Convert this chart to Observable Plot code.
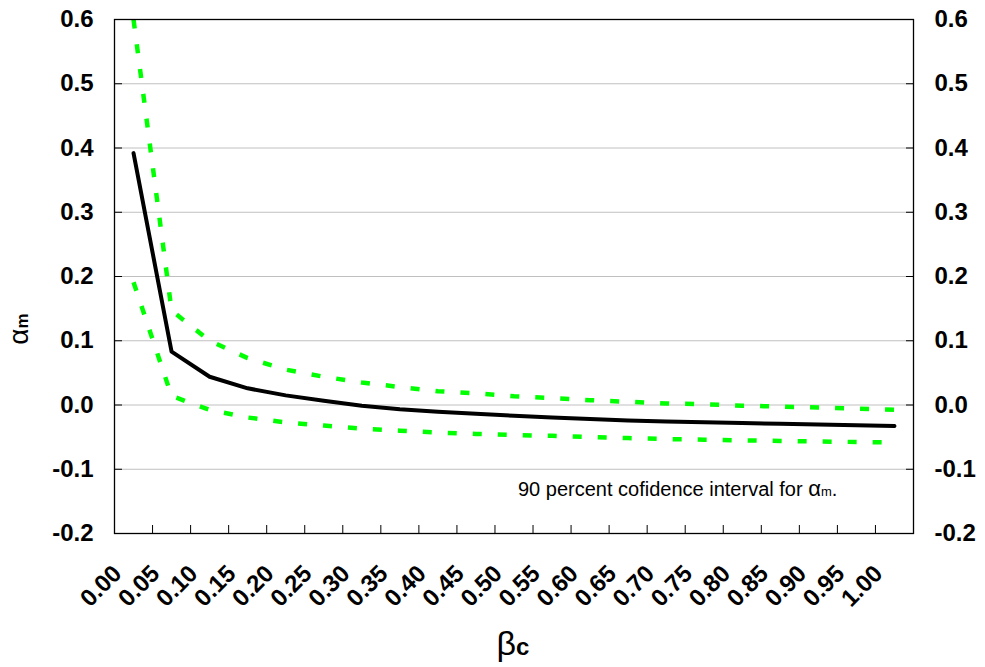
<!DOCTYPE html>
<html><head><meta charset="utf-8">
<script src="https://cdn.jsdelivr.net/npm/d3@7"></script>
<script src="https://cdn.jsdelivr.net/npm/@observablehq/plot@0.6"></script>
<style>html,body{margin:0;padding:0;background:#fff;} svg{display:block;}</style>
</head><body><div id="chart"></div>
<script>
const betaValues = [0.00,0.05,0.10,0.15,0.20,0.25,0.30,0.35,0.40,0.45,0.50,0.55,0.60,0.65,0.70,0.75,0.80,0.85,0.90,0.95,1.00];
const alphaM  = [0.392,0.083,0.044,0.026,0.015,0.0065,-0.001,-0.0065,-0.0105,-0.0138,-0.0167,-0.0193,-0.0218,-0.024,-0.0255,-0.027,-0.028,-0.0293,-0.0305,-0.0316,-0.0327];
const upper90 = [0.6,0.147,0.1,0.073,0.055,0.044,0.035,0.028,0.0215,0.018,0.0137,0.0106,0.0075,0.005,0.0025,0.001,-0.001,-0.0026,-0.004,-0.0058,-0.0075];
const lower90 = [0.191,0.014,-0.0075,-0.0195,-0.027,-0.032,-0.037,-0.040,-0.043,-0.045,-0.0467,-0.048,-0.050,-0.0515,-0.053,-0.054,-0.055,-0.056,-0.0567,-0.0576,-0.0583];
const yTicks = [-0.2,-0.1,0.0,0.1,0.2,0.3,0.4,0.5,0.6];
const gridTicks = [-0.1,0.0,0.1,0.2,0.3,0.4,0.5];

const step = betaValues[1] - betaValues[0];
const bandEdges = betaValues.map(b => b - step / 2).concat([betaValues[betaValues.length - 1] + step / 2]);
const rows = betaValues.map((b, i) => ({beta: b, alpha: alphaM[i], upper: upper90[i], lower: lower90[i]}));

const font = "Arial, 'Liberation Sans', sans-serif";
const green = "#00ff00";
const dashStyle = {stroke: green, strokeWidth: 4.5, strokeDasharray: "9,16", strokeLinecap: "butt", strokeLinejoin: "miter", clip: true};

const plot = Plot.plot({
  width: 985, height: 667,
  marginLeft: 114, marginRight: 72, marginTop: 19, marginBottom: 134,
  style: {fontFamily: font, background: "#fff", color: "#000", overflow: "visible"},
  x: {domain: [bandEdges[0], bandEdges[bandEdges.length - 1]]},
  y: {domain: [yTicks[0], yTicks[yTicks.length - 1]]},
  marks: [
    Plot.gridY(gridTicks, {stroke: "#c0c0c0", strokeOpacity: 1, strokeWidth: 1}),
    Plot.line(rows, {x: "beta", y: "upper", ...dashStyle}),
    Plot.line(rows, {x: "beta", y: "lower", ...dashStyle}),
    Plot.line(rows, {x: "beta", y: "alpha", stroke: "#000", strokeWidth: 4, strokeLinecap: "round", strokeLinejoin: "round"}),
    Plot.frame({stroke: "#000", strokeWidth: 1.3}),
    Plot.axisY(yTicks, {anchor: "left", tickSize: 0, tickPadding: 21, tickFormat: d => d.toFixed(1), fontSize: 24, fontWeight: "bold", label: null}),
    Plot.axisY(yTicks, {anchor: "left", tickSize: 8, dx: 8, tickFormat: () => "", label: null}),
    Plot.axisY(yTicks, {anchor: "right", tickSize: 0, tickPadding: 21, tickFormat: d => d.toFixed(1), fontSize: 24, fontWeight: "bold", label: null}),
    Plot.axisY(yTicks, {anchor: "right", tickSize: 8, dx: -8, tickFormat: () => "", label: null}),
    Plot.axisX(betaValues, {anchor: "bottom", tickSize: 0, tickPadding: 36, tickRotate: -45, dx: -16, tickFormat: d => d.toFixed(2), fontSize: 24, fontWeight: "bold", label: null}),
    Plot.axisX(bandEdges, {anchor: "bottom", tickSize: 8, dy: -8, tickFormat: () => "", label: null})
  ]
});
document.getElementById("chart").appendChild(plot);

const svg = d3.select(plot);
// y-axis title
const yt = svg.append("text")
  .attr("transform", "translate(28,329) rotate(-90)")
  .attr("text-anchor", "middle")
  .style("font-family", font).attr("fill", "#000");
yt.append("tspan").attr("font-size", 28).text("α");
yt.append("tspan").attr("font-size", 17).attr("font-weight", "bold").text("m");

// x-axis title
const xt = svg.append("text")
  .attr("x", 513).attr("y", 655)
  .attr("text-anchor", "middle")
  .style("font-family", font).attr("fill", "#000");
xt.append("tspan").attr("font-size", 34).text("β");
xt.append("tspan").attr("font-size", 24).attr("font-weight", "bold").text("c");

// annotation
const an = svg.append("text")
  .attr("x", 518).attr("y", 496)
  .attr("text-anchor", "start")
  .style("font-family", font).attr("fill", "#000").attr("font-size", 20);
an.append("tspan").text("90 percent cofidence interval for ");
an.append("tspan").attr("font-size", 22).text("α");
an.append("tspan").attr("font-size", 13).text("m");
an.append("tspan").text(".");
</script>
</body></html>
